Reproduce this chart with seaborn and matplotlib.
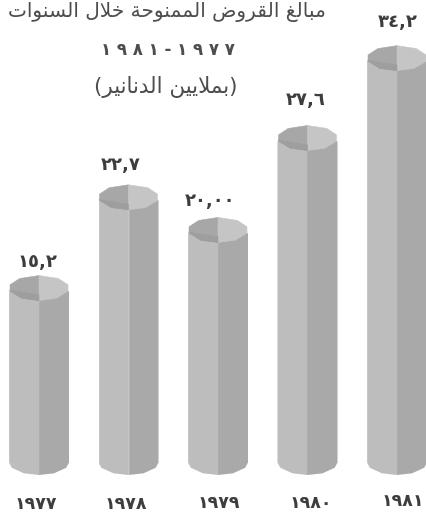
import numpy as np
import pandas as pd
import matplotlib
matplotlib.use("Agg")
import matplotlib.pyplot as plt
from matplotlib.path import Path
from matplotlib.patches import PathPatch
from matplotlib.transforms import ScaledTranslation
import seaborn as sns

years = ["١٩٧٧", "١٩٧٨", "١٩٧٩", "١٩٨٠", "١٩٨١"]
values = [15.2, 22.7, 20.0, 27.6, 34.2]
value_labels = ["١٥,٢", "٢٢,٧", "٢٠,٠٠", "٢٧,٦", "٣٤,٢"]
title_1 = "مبالغ القروض الممنوحة خلال السنوات"
title_2 = "١ ٩ ٨ ١ - ١ ٩ ٧ ٧"
title_3 = "(بملايين الدنانير)"

# Hand placement of the scanned labels, in pixels
label_dx = [-2, -8, -8, -2, 1]
label_dy = [29, 35, 32, 41, 39]
year_dx = [-3, -3, 1, 3, 6]
year_dy = [1, 1, 2, 2, 4]

FORMS = {
    "ا": (0xFE8D, 0xFE8E), "ب": (0xFE8F, 0xFE90, 0xFE91, 0xFE92), "ة": (0xFE93, 0xFE94),
    "ت": (0xFE95, 0xFE96, 0xFE97, 0xFE98), "ح": (0xFEA1, 0xFEA2, 0xFEA3, 0xFEA4),
    "خ": (0xFEA5, 0xFEA6, 0xFEA7, 0xFEA8), "د": (0xFEA9, 0xFEAA), "ر": (0xFEAD, 0xFEAE),
    "س": (0xFEB1, 0xFEB2, 0xFEB3, 0xFEB4), "ض": (0xFEBD, 0xFEBE, 0xFEBF, 0xFEC0),
    "غ": (0xFECD, 0xFECE, 0xFECF, 0xFED0), "ق": (0xFED5, 0xFED6, 0xFED7, 0xFED8),
    "ل": (0xFEDD, 0xFEDE, 0xFEDF, 0xFEE0), "م": (0xFEE1, 0xFEE2, 0xFEE3, 0xFEE4),
    "ن": (0xFEE5, 0xFEE6, 0xFEE7, 0xFEE8), "و": (0xFEED, 0xFEEE),
    "ي": (0xFEF1, 0xFEF2, 0xFEF3, 0xFEF4),
    "\ufefb": (0xFEFB, 0xFEFC),
}


def shape_arabic(text):
    """Contextual forms and visual order, since matplotlib does not shape Arabic."""
    text = text.replace("لا", "\ufefb")
    out = []
    for i, ch in enumerate(text):
        if ch not in FORMS:
            out.append({"(": ")", ")": "("}.get(ch, ch))
            continue
        prev = text[i - 1] if i else ""
        nxt = text[i + 1] if i + 1 < len(text) else ""
        joins_prev = prev in FORMS and len(FORMS[prev]) == 4
        joins_next = nxt in FORMS and len(FORMS[ch]) == 4
        forms = FORMS[ch]
        idx = (3 if joins_next else 1) if joins_prev else (2 if joins_next else 0)
        out.append(chr(forms[idx]))
    return "".join(reversed(out))


sns.set_theme(style="white")
plt.rcParams["font.family"] = ["DejaVu Sans"]

W, H = 426, 513
BASE_PX = 475
PX_PER_UNIT = 12.1
UNIT_X = 89.5
BAR_PX = 60
RY = 12.5 / PX_PER_UNIT
RX = BAR_PX / UNIT_X / 2

df = pd.DataFrame({
    "year": years * 2,
    "value": values * 2,
    "face": ["left"] * len(years) + ["right"] * len(years),
})

fig = plt.figure(figsize=(W / 100, H / 100), dpi=100, facecolor="white")
ax = fig.add_axes([0, (H - BASE_PX) / H, 1, BASE_PX / H])
sns.barplot(data=df, x="year", y="value", hue="face", order=years,
            hue_order=["left", "right"], palette={"left": "#bdbdbd", "right": "#a9a9a9"},
            saturation=1, width=BAR_PX / UNIT_X, gap=0, dodge=True, legend=False,
            errorbar=None, linewidth=0, ax=ax)

ax.set_xlim(-39 / UNIT_X, (W - 39) / UNIT_X)
ax.set_ylim(0, BASE_PX / PX_PER_UNIT)


def ring(cx, cy, angles):
    t = np.radians(np.asarray(angles, dtype=float))
    return np.column_stack([cx + RX * np.cos(t), cy + RY * np.sin(t)])


def facet(points, colour):
    closed = np.vstack([points, points[:1]])
    ax.add_patch(PathPatch(Path(closed, closed=True), fc=colour, ec=colour, lw=0.4, zorder=3))


# Round the foot of each column, and put a faceted cap on its top
for container in ax.containers:
    for i, bar in enumerate(container):
        # Same-coloured edge hides the anti-aliased seam between the two faces
        bar.set_edgecolor(bar.get_facecolor())
        bar.set_linewidth(0.5)
        foot = ring(i, RY, [180, 205, 240, 270, 300, 335, 360])
        outline = np.vstack([foot, [[i + RX, values[i] + 1]], [[i - RX, values[i] + 1]], foot[:1]])
        bar.set_clip_path(Path(outline, closed=True), ax.transData)

for i, v in enumerate(values):
    cy = v + 0.25
    centre = [[i, cy - 0.1 * RY]]
    facet(np.vstack([centre, ring(i, cy, [90, 130, 165, 195, 235, 270])]), "#a7a7a7")
    facet(np.vstack([centre, ring(i, cy, [-90, -55, -15, 15, 50, 90])]), "#c5c5c5")
    facet(np.vstack([[[i, cy - 0.55 * RY]], ring(i, cy, [190, 235, 270])]), "#9e9e9e")
    ax.annotate(value_labels[i], xy=(i, v), xytext=(label_dx[i], label_dy[i]),
                textcoords="offset pixels", ha="center", va="center",
                fontsize=13, fontweight="bold", color="#3d3d3d", zorder=4)

ax.set_xticks(range(len(years)))
ax.set_xticklabels(years, fontsize=12.5, fontweight="bold", color="#3d3d3d")
ax.tick_params(axis="x", length=0, pad=15)
for lab, dx, dy in zip(ax.get_xticklabels(), year_dx, year_dy):
    lab.set_transform(lab.get_transform() + ScaledTranslation(dx / 100, dy / 100, fig.dpi_scale_trans))
ax.set_yticks([])
ax.set_xlabel("")
ax.set_ylabel("")
sns.despine(ax=ax, left=True, bottom=True)

fig.text(326 / W, 1 - 12 / H, shape_arabic(title_1), ha="right", va="center",
         fontsize=14.5, color="#4d4d4d")
fig.text(168 / W, 1 - 50 / H, title_2, ha="center", va="center",
         fontsize=12, fontweight="bold", color="#4d4d4d")
fig.text(166 / W, 1 - 87 / H, shape_arabic(title_3), ha="center", va="center",
         fontsize=15.5, color="#4d4d4d")

fig.savefig("out.png", dpi=100, facecolor="white")
